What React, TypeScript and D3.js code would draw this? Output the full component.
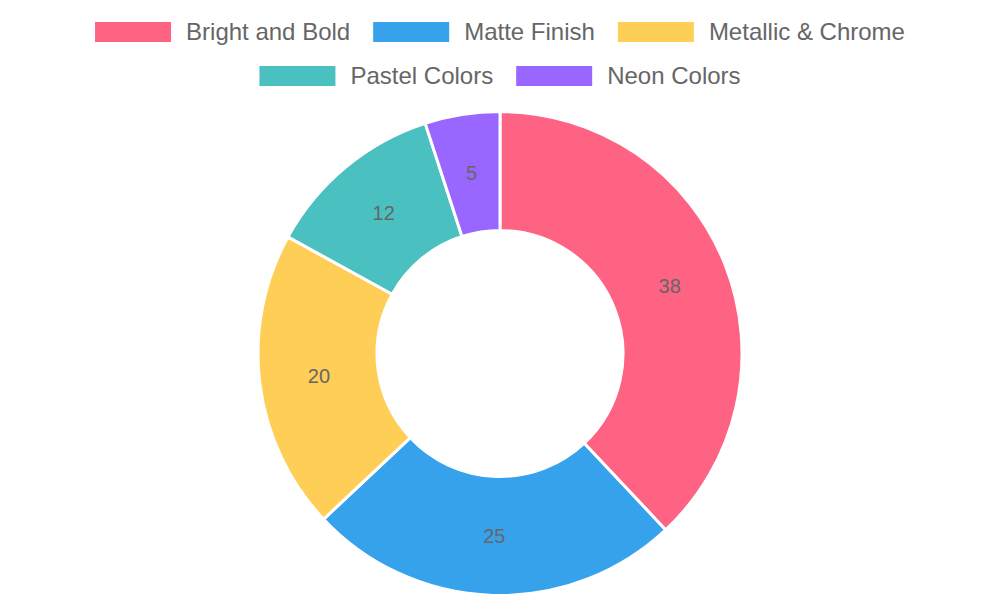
import React from "react";
import * as d3 from "d3";

const categories = ["Bright and Bold", "Matte Finish", "Metallic & Chrome", "Pastel Colors", "Neon Colors"];
const values = [38, 25, 20, 12, 5];
const colors = ["#FF6384", "#36A2EB", "#FFCE56", "#4BC0C0", "#9966FF"];
const legendRows = [[0, 1, 2], [3, 4]];

const W = 1000;
const H = 600;
const FONT = "'Liberation Sans', Arial, Helvetica, sans-serif";

function measure(text: string, size: number): number {
  const c = document.createElement("canvas");
  const ctx = c.getContext("2d");
  if (!ctx) return text.length * size * 0.5;
  ctx.font = `${size}px ${FONT}`;
  return ctx.measureText(text).width;
}

export default function App() {
  const cx = 500;
  const cy = 353.5;
  const outerR = 242;
  const innerR = 123;

  const pie = d3.pie<number>().sort(null).value((d) => d);
  const arcs = pie(values);
  const arcGen = d3.arc<d3.PieArcDatum<number>>().innerRadius(innerR).outerRadius(outerR);
  const labelArc = d3.arc<d3.PieArcDatum<number>>().innerRadius((innerR + outerR) / 2).outerRadius((innerR + outerR) / 2);

  const boxW = 76;
  const boxH = 20;
  const boxGap = 15;
  const itemGap = 23;
  const rowY = [32, 76];

  const legendItems: React.ReactNode[] = [];
  legendRows.forEach((row, ri) => {
    const widths = row.map((i) => boxW + boxGap + measure(categories[i], 24));
    const total = widths.reduce((a, b) => a + b, 0) + itemGap * (row.length - 1);
    let x = W / 2 - total / 2;
    row.forEach((i, k) => {
      legendItems.push(
        <g key={`lg${i}`}>
          <rect x={x} y={rowY[ri] - boxH / 2} width={boxW} height={boxH} fill={colors[i]} />
          <text x={x + boxW + boxGap} y={rowY[ri]} dy="0.35em" fontSize={24} fill="#666" fontFamily={FONT}>
            {categories[i]}
          </text>
        </g>
      );
      x += widths[k] + itemGap;
    });
  });

  return (
    <svg width={W} height={H} style={{ position: "absolute", left: 0, top: 0, background: "#fff" }}>
      <g transform={`translate(${cx},${cy})`}>
        {arcs.map((a, i) => (
          <path key={i} d={arcGen(a) || ""} fill={colors[i]} stroke="#fff" strokeWidth={3} strokeLinejoin="round" />
        ))}
        {arcs.map((a, i) => {
          const [lx, ly] = labelArc.centroid(a);
          return (
            <text key={`t${i}`} x={lx} y={ly} textAnchor="middle" dy="0.35em" fontSize={20} fill="#666" fontFamily={FONT}>
              {values[i]}
            </text>
          );
        })}
      </g>
      {legendItems}
    </svg>
  );
}
